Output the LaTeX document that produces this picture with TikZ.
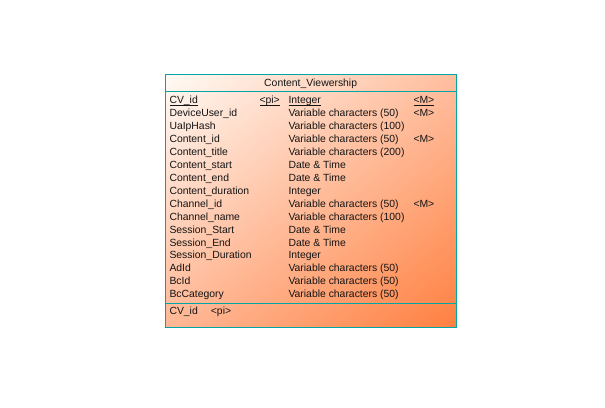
\documentclass[tikz,border=0pt]{standalone}
\usepackage{fontspec}
\setmainfont{Liberation Sans}
\usetikzlibrary{shadings}
\definecolor{tealb}{RGB}{0,166,166}
\definecolor{ctl}{RGB}{255,250,245}
\definecolor{ctr}{RGB}{255,190,158}
\definecolor{cbl}{RGB}{255,184,150}
\definecolor{cbr}{RGB}{255,128,64}
\definecolor{txt}{RGB}{20,20,20}
\newsavebox{\myulbox}
\newcommand{\keyul}[1]{\sbox{\myulbox}{#1}\rlap{\rule[-2pt]{\wd\myulbox}{0.8pt}}\usebox{\myulbox}}
\begin{document}
\begin{tikzpicture}[x=1pt,y=-1pt,
  cell/.style={anchor=base west,inner sep=0pt,font=\fontsize{10.4}{12}\selectfont,text=txt},
  ttl/.style={anchor=base,inner sep=0pt,font=\fontsize{10.4}{12}\selectfont,text=txt},
  frame/.style={draw=tealb,line width=0.9pt}]
\useasboundingbox (0,0) rectangle (605,407);
\shade[upper left=ctl,upper right=ctr,lower left=cbl,lower right=cbr] (165.3,74.3) rectangle (456,327.3);
\draw[frame] (165.3,74.3) rectangle (456,327.3);
\coordinate (sl1) at (165.3,91.3);
\coordinate (sr1) at (456,91.3);
\coordinate (sl2) at (165.3,303.3);
\coordinate (sr2) at (456,303.3);
\draw[frame] (sl1) -- (sr1);
\draw[frame] (sl2) -- (sr2);
\node[ttl] (title) at (310.65,86.8) {Content\_Viewership};
\def\rowy#1{103.8+12.93*#1}
\node[cell] (keyname) at (169.3,{\rowy{0}}) {\keyul{CV\_id}};
\node[cell] (keypi) at (259.3,{\rowy{0}}) {\keyul{<pi>}};
\node[cell] (keytype) at (288.3,{\rowy{0}}) {\keyul{Integer}};
\node[cell] (keym) at (413.3,{\rowy{0}}) {\keyul{<M>}};
\foreach \i/\n/\t/\m in {1/DeviceUser\_id/Variable characters (50)/<M>,
  2/UaIpHash/Variable characters (100)/,
  3/Content\_id/Variable characters (50)/<M>,
  4/Content\_title/Variable characters (200)/,
  5/Content\_start/Date \& Time/,
  6/Content\_end/Date \& Time/,
  7/Content\_duration/Integer/,
  8/Channel\_id/Variable characters (50)/<M>,
  9/Channel\_name/Variable characters (100)/,
  10/Session\_Start/Date \& Time/,
  11/Session\_End/Date \& Time/,
  12/Session\_Duration/Integer/,
  13/AdId/Variable characters (50)/,
  14/BcId/Variable characters (50)/,
  15/BcCategory/Variable characters (50)/}{
  \node[cell] (n\i) at (169.3,{\rowy{\i}}) {\n};
  \node[cell] (t\i) at (288.3,{\rowy{\i}}) {\t};
  \node[cell] (m\i) at (413.3,{\rowy{\i}}) {\m};
}
\node[cell] (k1) at (169.3,314.5) {CV\_id};
\node[cell] (k2) at (210.7,314.5) {<pi>};
\end{tikzpicture}
\end{document}
